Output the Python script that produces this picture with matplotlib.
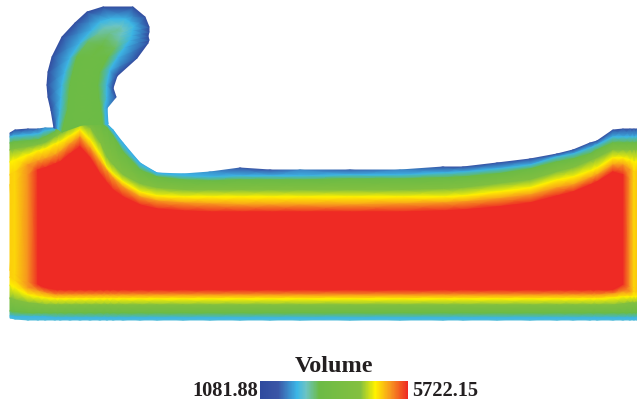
import numpy as np
import matplotlib
matplotlib.use('Agg')
import matplotlib.pyplot as plt
from matplotlib.colors import LinearSegmentedColormap, Normalize
from matplotlib.cm import ScalarMappable

vol_min = 1081.88
vol_max = 5722.15

# colour bar stops, read left to right
cmap_pos = [0.0, 0.12, 0.25, 0.31, 0.40, 0.68, 0.78, 0.88, 1.0]
cmap_col = ['#2f4a9e', '#3a55a6', '#3cb6e6', '#6cc4c4', '#6cbb45', '#84c040', '#fff200', '#f79a1e', '#ee2a24']

# fluid body, read column by column: y of each colour band at station x
body_x = [10, 15, 28, 38, 45, 55, 60, 70, 80, 90, 100, 107, 113, 123, 140, 157, 183, 210,
          240, 270, 300, 350, 400, 443, 463, 497, 530, 557, 573, 590, 597, 613, 623, 630, 634, 637]
top_edge = [133, 130, 129, 129, 128, 128, 120, 118, 118, 118, 120, 124, 130, 143, 163, 173, 174, 172,
            168, 170, 170, 170, 170, 167, 167, 163, 159, 154, 150, 143, 141, 130, 129, 129, 129, 129]
top_cyan = [137, 136, 135, 134, 131, 129, 121, 119, 119, 119, 121, 125, 132, 146, 165, 174, 176, 177,
            176, 176, 176, 175, 175, 173, 172, 169, 165, 157, 154, 148, 145, 137, 137, 137, 137, 137]
top_green = [143, 142, 141, 140, 137, 132, 122, 120, 120, 120, 122, 128, 136, 152, 170, 177, 180, 181,
             180, 180, 180, 179, 179, 178, 177, 174, 169, 162, 159, 154, 150, 143, 143, 143, 143, 143]
top_green2 = [150, 149, 147, 145, 143, 137, 134, 128, 122, 128, 143, 158, 165, 175, 184, 188, 190, 190,
              190, 190, 190, 190, 190, 189, 188, 184, 180, 172, 168, 161, 158, 150, 150, 150, 150, 150]
top_yellow = [162, 160, 155, 151, 149, 144, 142, 136, 130, 140, 155, 168, 174, 182, 192, 196, 197, 197,
              197, 197, 197, 197, 197, 197, 196, 192, 188, 180, 177, 171, 168, 158, 158, 160, 162, 162]
top_orange = [175, 172, 165, 161, 159, 155, 152, 144, 137, 148, 162, 171, 178, 187, 197, 201, 203, 204,
              205, 205, 205, 205, 204, 203, 202, 199, 195, 188, 185, 178, 175, 165, 165, 170, 172, 172]
top_red = [185, 182, 175, 170, 168, 164, 162, 154, 147, 158, 174, 183, 190, 197, 205, 209, 211, 212,
           212, 212, 212, 212, 212, 211, 210, 207, 203, 196, 192, 185, 182, 172, 175, 180, 182, 182]
low_red = [270, 275, 282, 285, 288, 290, 290, 290, 290, 290, 290, 290, 290, 290, 290, 290, 290, 290,
           290, 290, 290, 290, 290, 290, 290, 290, 290, 290, 290, 290, 290, 290, 285, 287, 288, 288]
low_orange = [277, 281, 288, 291, 293, 295, 295, 295, 295, 295, 295, 295, 295, 295, 295, 295, 295, 295,
              295, 295, 295, 295, 295, 295, 295, 295, 295, 295, 295, 295, 295, 294, 292, 292, 292, 292]
low_yellow = [285, 288, 295, 297, 298, 299, 299, 299, 299, 299, 299, 299, 299, 299, 299, 299, 299, 299,
              299, 299, 299, 299, 299, 299, 299, 299, 299, 299, 299, 299, 299, 298, 297, 297, 297, 297]
low_green2 = [298, 300, 303, 304, 305, 305, 305, 305, 305, 305, 305, 305, 305, 305, 305, 305, 305, 305,
              305, 305, 305, 305, 305, 305, 305, 305, 305, 305, 305, 305, 305, 305, 304, 303, 303, 303]
low_green = [311, 312, 313, 313, 313, 313, 313, 313, 313, 313, 313, 313, 313, 313, 313, 313, 313, 313,
             313, 313, 313, 313, 313, 313, 313, 313, 313, 313, 313, 313, 313, 313, 313, 313, 313, 313]
low_cyan = [316, 317, 317, 317, 317, 318, 318, 318, 318, 318, 318, 318, 318, 318, 318, 318, 318, 318,
            318, 318, 318, 318, 318, 318, 318, 318, 318, 318, 318, 318, 318, 318, 318, 318, 318, 318]
low_edge = [318, 319, 320, 320, 320, 320, 320, 320, 320, 320, 320, 320, 320, 320, 320, 320, 320, 320,
            320, 320, 320, 320, 320, 320, 320, 320, 320, 320, 320, 320, 320, 320, 320, 320, 320, 320]

# level (0-1 of the volume range) of each band, top to bottom
band_levels = [0.0, 0.25, 0.40, 0.66, 0.78, 0.88, 1.0, 1.0, 0.88, 0.78, 0.66, 0.40, 0.25, 0.27]
# level along the top surface and the cap set by the side walls
surface_levels = [.10, .06, .10, .15, .20, .20, .30, .30, .30, .30, .30, .24, .24, .24, .24, .24, .24, .20,
                  .12, .12, .18, .14, .18, .10, .10, .08, .10, .08, .08, .08, .08, .06, .08, .08, .08, .08]
wall_levels = [.82, .81, .89, 1, 1, 1, 1, 1, 1, 1, 1, 1, 1, 1, 1, 1, 1, 1,
               1, 1, 1, 1, 1, 1, 1, 1, 1, 1, 1, 1, 1, 1, 1, .88, .81, .83]

# hook, cross sections from neck to tip: left edge -> right edge, x and y
hook_x = [[54, 58, 62, 82, 103, 106, 108],
          [51, 60, 68, 82, 101, 105, 107],
          [48, 61, 69, 82, 99, 107, 116],
          [47, 62, 70, 84, 98, 107, 113],
          [48, 65, 73, 86, 100, 110, 117],
          [52, 70, 77, 92, 108, 118, 137],
          [62, 80, 88, 102, 115, 125, 148],
          [75, 92, 98, 106, 118, 130, 149],
          [87, 100, 104, 110, 120, 132, 148],
          [103, 110, 113, 116, 122, 133, 149],
          [133, 125, 121, 118, 124, 134, 149],
          [145, 130, 122, 118, 122, 130, 145]]
hook_y = [[128, 129, 132, 125, 124, 124, 124],
          [110, 110, 108, 108, 108, 108, 108],
          [97, 97, 97, 97, 97, 97, 97],
          [85, 85, 85, 85, 85, 85, 88],
          [72, 72, 72, 72, 72, 70, 76],
          [57, 58, 57, 57, 57, 57, 58],
          [37, 43, 42, 46, 48, 47, 43],
          [23, 30, 34, 39, 41, 40, 40],
          [12, 22, 28, 33, 36, 35, 36],
          [7, 19, 26, 31, 33, 30, 32],
          [7, 19, 26, 30, 31, 26, 27],
          [17, 22, 28, 30, 28, 22, 17]]
hook_levels = [.05, .25, .40, .42, .40, .25, .05]
hook_right_levels = [.24, .22, .06, .05, .05, .05, .05, .05, .05, .05, .05, .05]
hook_green_levels = [.40, .40, .40, .40, .40, .40, .38, .34, .32, .31, .31, .31]
hook_mid_levels = [.42, .42, .42, .42, .42, .42, .41, .38, .35, .34, .34, .34]


cmap = LinearSegmentedColormap.from_list('volume', list(zip(cmap_pos, cmap_col)))
norm = Normalize(0, 1)

fig = plt.figure(figsize=(6.37, 4.04), dpi=100)
ax = fig.add_axes([0, 0, 1, 1])
ax.set_xlim(0, 637)
ax.set_ylim(404, 0)
ax.axis('off')

# body
body_y = np.array([top_edge, top_cyan, top_green, top_green2, top_yellow, top_orange, top_red,
                   low_red, low_orange, low_yellow, low_green2, low_green, low_cyan, low_edge], dtype=float)
body_xx = np.tile(body_x, (len(band_levels), 1))
body_c = np.minimum(np.array(band_levels)[:, None], np.array(wall_levels))
body_c[0] = surface_levels
ax.pcolormesh(body_xx, body_y, body_c, shading='gouraud', cmap=cmap, norm=norm)

# hook goes on top of the neck
hook_c = np.tile(hook_levels, (len(hook_x), 1))
hook_c[:, 6] = hook_right_levels
hook_c[:, 2] = hook_green_levels
hook_c[:, 4] = hook_green_levels
hook_c[:, 3] = hook_mid_levels
ax.pcolormesh(np.array(hook_x, float), np.array(hook_y, float), hook_c, shading='gouraud', cmap=cmap, norm=norm)

# colour bar
cax = fig.add_axes([260 / 637, 1 - 399 / 404, 148 / 637, 18 / 404])
cb = fig.colorbar(ScalarMappable(Normalize(vol_min, vol_max), cmap), cax=cax, orientation='horizontal')
cb.set_ticks([])
cb.outline.set_visible(False)

serif = dict(family='Liberation Serif', weight='bold', color='#231f20')
ax.text(334, 367, 'Volume', ha='center', va='center', fontsize=17.5, **serif)
ax.text(258, 391.5, '%.2f' % vol_min, ha='right', va='center', fontsize=14.7, **serif)
ax.text(412, 391.5, '%.2f' % vol_max, ha='left', va='center', fontsize=14.7, **serif)

fig.savefig('out.png', dpi=100)
